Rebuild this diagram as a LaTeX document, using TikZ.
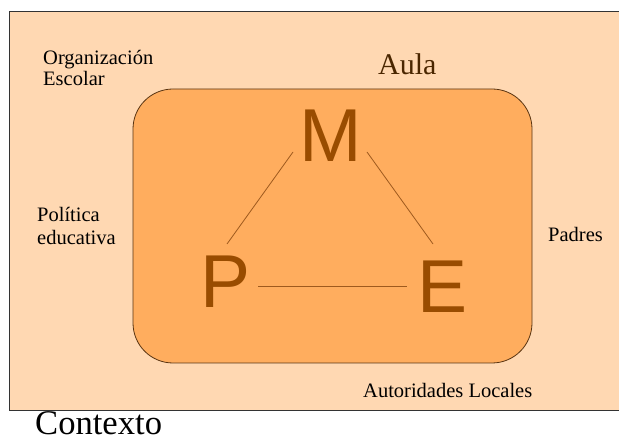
\documentclass[tikz,border=0pt]{standalone}
\usepackage{fontspec}
\setmainfont{Liberation Serif}
\newfontfamily\lettfont{Liberation Sans}
\definecolor{outerfill}{HTML}{FFD8B2}
\definecolor{innerfill}{HTML}{FFAD5E}
\definecolor{letterbrown}{HTML}{994C00}
\definecolor{linebrown}{HTML}{9E5A1E}
\definecolor{rimbrown}{HTML}{5A3512}
\definecolor{aulabrown}{HTML}{4A2600}
\begin{document}
\begin{tikzpicture}[x=1pt,y=-1pt,
  lbl/.style={inner sep=0pt, anchor=base west, font=\fontsize{20.5}{23}\selectfont, align=left},
  bigletter/.style={inner sep=0pt, anchor=base, text=letterbrown, font=\lettfont\fontsize{75}{75}\selectfont},
  link/.style={draw=linebrown, line width=0.8pt}]
\useasboundingbox (0,0) rectangle (619,438);
\clip (0,0) rectangle (619,438);
\fill[white] (0,0) rectangle (619,438);
% outer context rectangle
\draw[fill=outerfill, draw=black!80, line width=1pt] (9,12) rectangle (630,411);
% inner classroom
\draw[fill=innerfill, draw=rimbrown, line width=0.8pt, rounded corners=40pt] (133,89) rectangle (532,363);
% labels
\node[lbl] (org) at (43,65) {Organización};
\node[lbl] (esc) at (43,86) {Escolar};
\node[inner sep=0pt, anchor=base west, text=aulabrown, font=\fontsize{30}{30}\selectfont] (aula) at (378,75) {Aula};
\node[lbl] (pol) at (37,222) {Política};
\node[lbl] (edu) at (37,245) {educativa};
\node[lbl] (pad) at (548,242) {Padres};
\node[lbl] (aut) at (363,398) {Autoridades Locales};
\node[inner sep=0pt, anchor=base west, font=\fontsize{34.6}{35}\selectfont] (ctx) at (35,435) {Contexto};
% triangle letters
\node[bigletter] (M) at (330.5,162) {M};
\node[bigletter] (P) at (226,308) {P};
\node[bigletter] (E) at (443,313) {E};
% connector ends
\coordinate (mp1) at (293,152);
\coordinate (mp2) at (227,244);
\coordinate (me1) at (367,152);
\coordinate (me2) at (433,244);
\coordinate (pe1) at (258,286);
\coordinate (pe2) at (407,286);
\draw[link] (mp1) -- (mp2);
\draw[link] (me1) -- (me2);
\draw[link] (pe1) -- (pe2);
\end{tikzpicture}
\end{document}
